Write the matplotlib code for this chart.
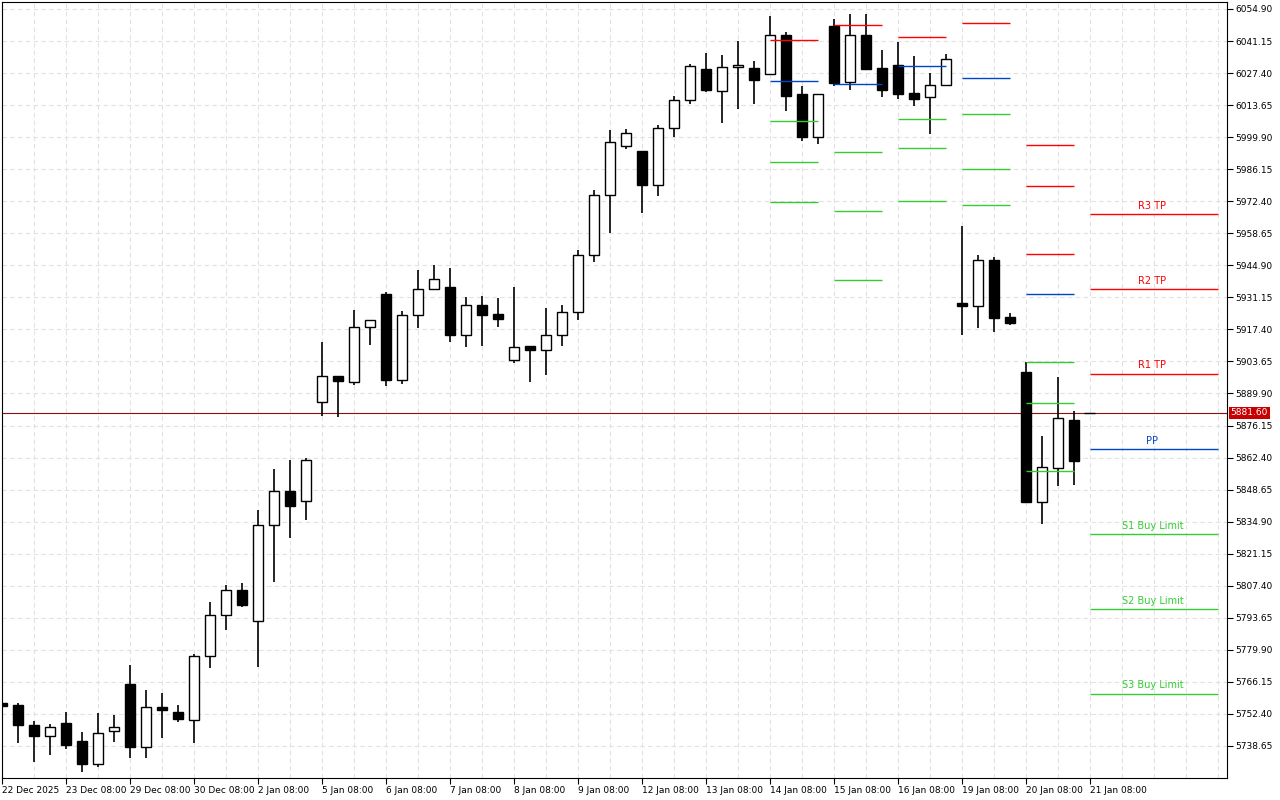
import matplotlib
matplotlib.use("Agg")
import matplotlib.pyplot as plt
from matplotlib.transforms import blended_transform_factory

opens = [5757.1,5756.2,5747.6,5742.9,5748.5,5740.8,5730.9,5745.1,5765.3,5738.2,5755.4,5753.2,5749.8,5777.3,5794.9,5805.6,
         5792.3,5833.5,5848.1,5843.8,5886.3,5897.4,5894.9,5918.4,5932.6,5895.7,5923.6,5934.7,5935.6,5915.0,5927.9,5924.0,
         5904.3,5910.3,5908.6,5915.0,5924.9,5949.3,5975.1,5996.1,5994.0,5979.4,6003.8,6015.8,6029.1,6019.7,6030.0,6029.6,
         6027.0,6043.7,6018.4,6000.0,6047.6,6023.6,6043.7,6029.6,6030.9,6018.8,6017.1,6022.3,5928.7,5927.5,5947.2,5922.7,
         5899.1,5843.4,5858.0,5878.5]
closes = [5755.8,5747.6,5742.9,5746.8,5739.1,5730.9,5744.2,5746.8,5738.2,5755.4,5754.1,5750.2,5777.3,5794.9,5805.6,5799.2,
          5833.5,5848.1,5841.6,5861.4,5897.4,5895.3,5918.4,5921.4,5895.7,5923.6,5934.7,5939.0,5915.0,5927.9,5923.6,5921.9,
          5909.9,5908.6,5915.0,5924.9,5949.3,5975.1,5997.8,6001.7,5979.4,6003.8,6015.8,6030.4,6020.1,6030.0,6030.9,6024.4,
          6043.7,6017.6,6000.0,6018.4,6023.1,6043.7,6029.1,6020.1,6018.4,6016.3,6022.3,6033.4,5927.5,5947.2,5922.3,5920.2,
          5843.4,5858.4,5879.4,5861.0]
highs = [5758.0,5757.1,5749.4,5748.1,5753.2,5744.7,5752.8,5751.9,5773.4,5762.7,5761.4,5756.2,5778.1,5800.4,5807.7,5808.6,
         5839.9,5857.5,5861.4,5862.2,5912.0,5897.4,5925.7,5921.4,5933.5,5925.3,5942.9,5945.0,5943.8,5931.3,5931.7,5930.9,
         5935.6,5910.3,5926.6,5927.9,5951.5,5977.2,6003.0,6003.4,5994.0,6005.1,6017.6,6031.3,6036.0,6035.2,6041.2,6032.6,
         6051.9,6045.0,6021.8,6018.4,6050.6,6052.8,6052.8,6037.3,6040.7,6034.7,6027.4,6035.6,5961.8,5949.3,5948.5,5924.4,
         5903.4,5871.7,5897.0,5882.4]
lows = [5755.0,5739.9,5731.8,5734.8,5737.4,5727.5,5729.6,5740.4,5733.5,5733.5,5742.1,5749.0,5739.9,5772.1,5788.4,5798.3,
        5772.5,5809.0,5827.9,5835.6,5880.2,5879.8,5893.6,5910.7,5893.1,5894.0,5918.0,5934.3,5912.0,5909.9,5910.3,5918.4,
        5903.0,5894.8,5897.8,5910.3,5921.4,5946.3,5958.8,5994.8,5967.4,5974.7,6000.0,6014.1,6019.3,6006.0,6012.0,6014.1,
        6027.0,6011.1,5998.3,5997.0,6021.9,6020.1,6029.1,6017.1,6016.3,6013.3,6001.3,6022.3,5915.0,5918.0,5916.3,5919.3,
        5843.0,5833.9,5850.2,5850.6]

current_price = 5881.60

# daily pivot segments: (start bar, [(price, colour), ...])
level_days = [
    (48, [(6041.6, "r"), (6024.0, "b"), (6006.8, "g"), (5989.2, "g"), (5972.1, "g")]),
    (52, [(6048.0, "r"), (6022.7, "b"), (5993.5, "g"), (5968.2, "g"), (5938.6, "g")]),
    (56, [(6042.9, "r"), (6030.4, "b"), (6007.7, "g"), (5995.3, "g"), (5972.5, "g")]),
    (60, [(6048.9, "r"), (6025.3, "b"), (6009.8, "g"), (5986.2, "g"), (5970.8, "g")]),
    (64, [(5996.5, "r"), (5979.0, "r"), (5949.8, "r"), (5932.6, "b"), (5903.4, "g"), (5885.8, "g"), (5856.7, "g")]),
]
final_names = ["R3 TP", "R2 TP", "R1 TP", "PP", "S1 Buy Limit", "S2 Buy Limit", "S3 Buy Limit"]
final_values = [5966.9, 5934.7, 5898.3, 5865.9, 5829.6, 5797.4, 5761.0]
final_colors = ["r", "r", "r", "b", "g", "g", "g"]

y_ticks = [6054.90, 6041.15, 6027.40, 6013.65, 5999.90, 5986.15, 5972.40, 5958.65, 5944.90, 5931.15, 5917.40, 5903.65,
           5889.90, 5876.15, 5862.40, 5848.65, 5834.90, 5821.15, 5807.40, 5793.65, 5779.90, 5766.15, 5752.40, 5738.65]
x_labels = ["22 Dec 2025", "23 Dec 08:00", "29 Dec 08:00", "30 Dec 08:00", "2 Jan 08:00", "5 Jan 08:00", "6 Jan 08:00",
            "7 Jan 08:00", "8 Jan 08:00", "9 Jan 08:00", "12 Jan 08:00", "13 Jan 08:00", "14 Jan 08:00", "15 Jan 08:00",
            "16 Jan 08:00", "19 Jan 08:00", "20 Jan 08:00", "21 Jan 08:00"]

cmap = {"r": "#ff0000", "b": "#0044cc", "g": "#33cc33"}

fig = plt.figure(figsize=(12.8, 8.0), dpi=100)
ax = fig.add_axes([2/1280, 22/800, 1225/1280, 776/800])
ax.set_xlim(0.0, 76.56)
ax.set_ylim(5724.9, 6057.9)

# grid
for k in range(0, 77, 2):
    ax.axvline(k, color="#e2e2e2", lw=0.8, ls=(0, (4, 3)), zorder=0)
for yt in y_ticks:
    ax.axhline(yt, color="#e2e2e2", lw=0.8, ls=(0, (4, 3)), zorder=0)

# candles
for i, (o, c, h, l) in enumerate(zip(opens, closes, highs, lows)):
    ax.vlines(i, l, h, color="black", lw=1.2, zorder=2)
    bottom = min(o, c)
    height = max(abs(c - o), 0.4)
    fc = "white" if c > o else "black"
    ax.bar(i, height, bottom=bottom, width=0.6, color=fc, edgecolor="black", lw=1.0, zorder=3)

# pivot levels
for start, levs in level_days:
    for val, col in levs:
        ax.hlines(val, start, start + 3, color=cmap[col], lw=1.0, zorder=4)
for name, val, col in zip(final_names, final_values, final_colors):
    ax.hlines(val, 68, 76, color=cmap[col], lw=1.0, zorder=4)
    ax.text(71.9, val + 1.5, name, color=cmap[col], fontsize=7, ha="center", va="bottom", zorder=5)

# current price
ax.axhline(current_price, color="#8b1010", lw=0.8, zorder=1)
ax.hlines(current_price, 67.6, 68.3, color="black", lw=1.0, zorder=4)
tr = blended_transform_factory(ax.transAxes, ax.transData)
ax.text(1.003, current_price, f"{current_price:.2f}", transform=tr, color="white", fontsize=6.5,
        ha="left", va="center", bbox=dict(boxstyle="square,pad=0.2", fc="#c80000", ec="none"), zorder=6)

ax.yaxis.tick_right()
ax.set_yticks(y_ticks)
ax.set_yticklabels([f"{v:.2f}" for v in y_ticks], fontsize=6.5)
ax.set_xticks([4 * i for i in range(len(x_labels))])
ax.set_xticklabels(x_labels, fontsize=6.5, ha="left")
ax.tick_params(axis="both", length=4, width=0.8, pad=2)
for s in ax.spines.values():
    s.set_linewidth(0.8)

fig.savefig("out.png", dpi=100)
